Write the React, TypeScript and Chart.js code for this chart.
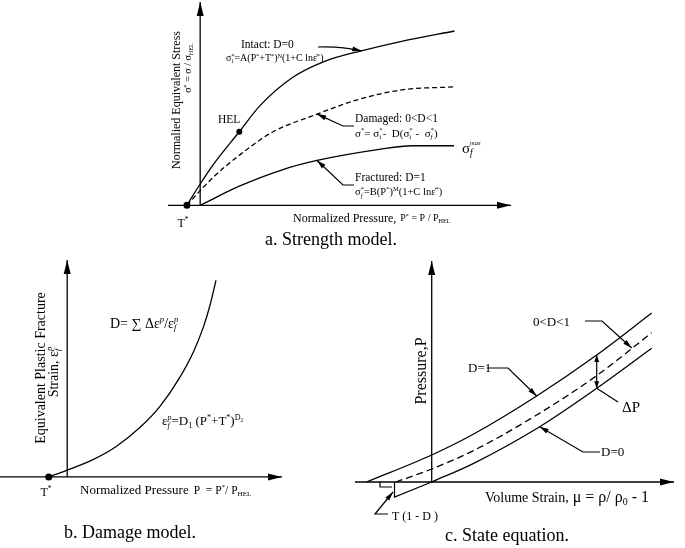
import React, { useEffect, useRef } from "react";
import { Chart, registerables } from "chart.js";
Chart.register(...registerables);

const FONT = '"Liberation Serif", "Times New Roman", serif';

// ---------- Panel a: strength model (P* = P/P_HEL, sigma* = sigma/sigma_HEL)
const intactP = [-0.34, 0, 0.33, 1.0, 1.53, 2.37, 3.2, 4.12, 5.15, 6.5];
const intactS = [0, 0.29, 0.55, 1.0, 1.355, 1.74, 1.96, 2.1, 2.23, 2.37];
const damagedP = [-0.34, 0, 0.33, 1.0, 1.83, 2.99, 3.99, 5.16, 6.49];
const damagedS = [0, 0.2, 0.38, 0.68, 0.99, 1.24, 1.43, 1.57, 1.61];
const fracturedP = [0, 1.0, 2.08, 2.99, 4.58, 5.41, 6.49];
const fracturedS = [0, 0.26, 0.48, 0.61, 0.76, 0.81, 0.81];
const tStarA = -0.34;
const helP = 1.0;
const helS = 1.0;

// ---------- Panel b: damage model
const damageP = [-0.38, 0, 0.5, 1.0, 1.5, 1.9, 2.3, 2.6, 2.8, 2.94, 3.06];
const damageEps = [0, 0.07, 0.17, 0.31, 0.51, 0.72, 1.01, 1.29, 1.54, 1.77, 2.02];
const tStarB = -0.38;

// ---------- Panel c: state equation
const d1Mu = [-0.325, 0, 0.21, 0.525, 0.825, 1.1];
const d1P = [0, 0.27, 0.48, 0.86, 1.27, 1.69];
const midMu = [-0.18, 0, 0.21, 0.525, 0.825, 1.1];
const midP = [0, 0.13, 0.315, 0.67, 1.064, 1.493];
const d0Mu = [0, 0.21, 0.54, 0.825, 1.1];
const d0P = [0, 0.187, 0.553, 0.937, 1.337];

const pts = (xs: number[], ys: number[]) => xs.map((x, i) => ({ x, y: ys[i] }));

interface Lay { l: number; t: number; w: number; h: number; ox: number; oy: number; ux: number; uy: number }

const layA: Lay = { l: 160, t: 0, w: 360, h: 250, ox: 197, oy: 208, ux: 40, uy: 76 };
const layB: Lay = { l: 0, t: 255, w: 290, h: 293, ox: 65, oy: 479, ux: 50, uy: 100 };
const layC: Lay = { l: 340, t: 255, w: 345, h: 293, ox: 431.7, oy: 482, ux: 200, uy: 100 };

type Tok = { t: string; k: string; it: boolean };
// ^{..} sup, _{..} sub, ~{..} tiny sup, `{..} sub-of-sup ; [..] instead of {..} = italic
function parse(s: string): Tok[] {
  const out: Tok[] = [];
  let i = 0, buf = "", it = false;
  const flush = () => { if (buf) { out.push({ t: buf, k: "n", it }); buf = ""; } };
  const kinds: Record<string, string> = { "^": "sup", "_": "sub", "`": "ss", "~": "tsup" };
  while (i < s.length) {
    const c = s[i];
    if (kinds[c] && (s[i + 1] === "{" || s[i + 1] === "[")) {
      flush();
      const close = s[i + 1] === "{" ? "}" : "]";
      const j = s.indexOf(close, i + 2);
      out.push({ t: s.slice(i + 2, j), k: kinds[c], it: s[i + 1] === "[" });
      i = j + 1;
    } else if (c === "|") { flush(); it = !it; i++; }
    else { buf += c; i++; }
  }
  flush();
  return out;
}

type Pt = [number, number];

function makeG(chart: any, L: Lay) {
  const ctx: CanvasRenderingContext2D = chart.ctx;
  const xs = chart.scales.x, ys = chart.scales.y;
  const P = (X: number, Y: number): Pt => [X - L.l, Y - L.t];
  const D = (x: number, y: number): Pt => [xs.getPixelForValue(x), ys.getPixelForValue(y)];
  const poly = (p: Pt[], dash: number[] = [], lw = 1.2) => {
    ctx.save(); ctx.setLineDash(dash); ctx.lineWidth = lw; ctx.strokeStyle = "#000";
    ctx.beginPath(); p.forEach((q, i) => (i ? ctx.lineTo(q[0], q[1]) : ctx.moveTo(q[0], q[1]))); ctx.stroke(); ctx.restore();
  };
  const head = (tip: Pt, from: Pt, len = 8, hw = 2.5) => {
    const dx = tip[0] - from[0], dy = tip[1] - from[1];
    const d = Math.hypot(dx, dy) || 1; const ux = dx / d, uy = dy / d;
    const bx = tip[0] - ux * len, by = tip[1] - uy * len;
    ctx.save(); ctx.fillStyle = "#000"; ctx.beginPath();
    ctx.moveTo(tip[0], tip[1]); ctx.lineTo(bx - uy * hw, by + ux * hw); ctx.lineTo(bx + uy * hw, by - ux * hw);
    ctx.closePath(); ctx.fill(); ctx.restore();
  };
  const lay = (s: string, size: number) => {
    const items: { t: string; font: string; dx: number; dy: number }[] = [];
    let x = 0, lastK = "", lastS = 0, lastW = 0;
    for (const tk of parse(s)) {
      const fs = tk.k === "ss" || tk.k === "tsup" ? size * 0.42 : tk.k === "n" ? size : size * 0.62;
      const font = `${tk.it ? "italic " : ""}${fs}px ${FONT}`;
      ctx.font = font;
      const w = ctx.measureText(tk.t).width;
      const dy = tk.k === "sup" ? -size * 0.38 : tk.k === "tsup" ? -size * 0.5 : tk.k === "sub" ? size * 0.2 : tk.k === "ss" ? -size * 0.22 : 0;
      const isSup = tk.k === "sup" || tk.k === "tsup";
      const lastSup = lastK === "sup" || lastK === "tsup";
      let sx = x;
      if ((isSup && lastK === "sub") || (tk.k === "sub" && lastSup)) {
        sx = lastS; x = Math.max(lastS + lastW, sx + w); lastK = "stk";
      } else { x = sx + w; lastK = tk.k; }
      lastS = sx; lastW = w;
      items.push({ t: tk.t, font, dx: sx, dy });
    }
    return { items, width: x };
  };
  const text = (s: string, at: Pt, size: number, align = "left") => {
    const r = lay(s, size);
    const x0 = align === "center" ? at[0] - r.width / 2 : align === "right" ? at[0] - r.width : at[0];
    const base = at[1] + size * 0.33;
    ctx.save(); ctx.fillStyle = "#000"; ctx.textBaseline = "alphabetic"; ctx.textAlign = "left";
    for (const it of r.items) { ctx.font = it.font; ctx.fillText(it.t, x0 + it.dx, base + it.dy); }
    ctx.restore();
    return r.width;
  };
  const vtext = (s: string, at: Pt, size: number) => {
    ctx.save(); ctx.translate(at[0], at[1]); ctx.rotate(-Math.PI / 2);
    text(s, [0, 0], size, "center"); ctx.restore();
  };
  return { ctx, P, D, poly, head, text, vtext };
}

const lineDs = (data: { x: number; y: number }[], dash: number[] = []) => ({
  data, showLine: true, borderColor: "#000", borderWidth: 1.3, borderDash: dash,
  pointRadius: 0, cubicInterpolationMode: "monotone", fill: false,
});
const dotDs = (data: { x: number; y: number }[], r: number) => ({
  data, showLine: false, pointRadius: r, pointBackgroundColor: "#000", pointBorderColor: "#000", pointBorderWidth: 0,
});

function Panel({ L, datasets, draw }: { L: Lay; datasets: any[]; draw: (g: ReturnType<typeof makeG>) => void }) {
  const ref = useRef<HTMLCanvasElement | null>(null);
  useEffect(() => {
    const chart = new Chart(ref.current as HTMLCanvasElement, {
      type: "scatter",
      data: { datasets } as any,
      options: {
        animation: false, responsive: false, devicePixelRatio: 1, events: [],
        layout: { padding: 0 },
        plugins: { legend: { display: false }, tooltip: { enabled: false } },
        scales: {
          x: { type: "linear", display: false, min: (L.l - L.ox) / L.ux, max: (L.l + L.w - L.ox) / L.ux },
          y: { type: "linear", display: false, min: (L.oy - L.t - L.h) / L.uy, max: (L.oy - L.t) / L.uy },
        },
      } as any,
      plugins: [{ id: "anno", afterDatasetsDraw(c: any) { draw(makeG(c, L)); } }],
    });
    return () => chart.destroy();
  }, []);
  return <canvas ref={ref} width={L.w} height={L.h}
    style={{ position: "absolute", left: L.l, top: L.t, width: L.w, height: L.h }} />;
}

function drawA(g: ReturnType<typeof makeG>) {
  const { P, D, poly, head, text, vtext, ctx } = g;
  const [ax, ay] = D(0, 0);
  poly([[P(168, 0)[0], ay], [P(511, 0)[0], ay]], [], 1.3);
  head([P(511, 0)[0], ay], [ax, ay], 14, 3.5);
  poly([[ax, ay], [ax, P(0, 2)[1]]], [], 1.3);
  head([ax, P(0, 2)[1]], [ax, ay], 14, 3.5);

  // Intact leader
  const tipI = D(intactP[7], intactS[7]);
  const s0 = P(318, 47), c0 = P(340, 46);
  ctx.save(); ctx.lineWidth = 1.2; ctx.beginPath(); ctx.moveTo(s0[0], s0[1]);
  ctx.quadraticCurveTo(c0[0], c0[1], tipI[0], tipI[1]); ctx.stroke(); ctx.restore();
  head(tipI, c0, 9, 2.5);
  const tipD = D(damagedP[5], damagedS[5]);
  poly([P(354, 126), P(343, 126), tipD]); head(tipD, P(343, 126), 9, 2.5);
  const tipF = D(fracturedP[3], fracturedS[3]);
  poly([P(354, 185), P(343, 185), tipF]); head(tipF, P(343, 185), 9, 2.5);

  text("Intact: D=0", P(241, 44), 11.5);
  text("σ_{i}^{*}=A(P^{*}+T^{*})^{N}(1+C lnε̇^{*})", P(226, 58), 10);
  text("HEL", P(218, 119), 11.5);
  text("Damaged: 0<D<1", P(355, 118), 11.5);
  text("σ^{*}= σ_{i}^{*}-  D(σ_{i}^{*} -  σ_[f]^{*})", P(355, 133), 11);
  text("Fractured: D=1", P(355, 177), 11.5);
  text("σ_[f]^{*}=B(P^{*})^{M}(1+C lnε̇^{*})", P(355, 192), 10.5);
  text("σ_[f]~[max]", P(462, 148), 15);
  text("T^{*}", P(183, 223), 12, "center");
  const w = text("Normalized Pressure,", P(293, 218), 12);
  text("P^{*} = P / P_{HEL}", P(293 + w + 4, 218), 10);
  vtext("Normalied Equivalent Stress", P(176, 100), 12);
  vtext("σ^{*} = σ / σ_{HEL}", P(188, 68), 10);
  text("a. Strength model.", P(331, 239), 18, "center");
}

function drawB(g: ReturnType<typeof makeG>) {
  const { P, D, poly, head, text, vtext } = g;
  const [ax, ay] = D(0, 0);
  poly([[P(0, 0)[0], ay], [P(282, 0)[0], ay]], [], 1.3);
  head([P(282, 0)[0], ay], [ax, ay], 14, 3.5);
  poly([[ax, ay], [ax, P(0, 260)[1]]], [], 1.3);
  head([ax, P(0, 260)[1]], [ax, ay], 14, 3.5);
  text("T^{*}", P(46, 492), 12, "center");
  const w = text("Normalized Pressure", P(80, 490), 13);
  text("P  = P^{*}/ P_{HEL}", P(80 + w + 5, 490), 11.5);
  text("D= ∑ Δε^[p]/ε_[f]^[p]", P(110, 323), 14);
  text("ε_[f]^[p]=D_{1} (P^{*}+T^{*})^{D}`{2}", P(162, 421), 13);
  vtext("Equivalent Plastic Fracture", P(40, 368), 14);
  vtext("Strain, ε_[f]^[p]", P(53, 372), 14);
  text("b. Damage model.", P(130, 532), 18, "center");
}

function drawC(g: ReturnType<typeof makeG>) {
  const { P, D, poly, head, text, vtext } = g;
  const [ax, ay] = D(0, 0);
  poly([[P(355, 0)[0], ay], [P(674, 0)[0], ay]], [], 1.3);
  head([P(674, 0)[0], ay], [ax, ay], 14, 3.5);
  poly([[ax, ay], [ax, P(0, 261)[1]]], [], 1.3);
  head([ax, P(0, 261)[1]], [ax, ay], 14, 3.5);

  // tension cut-off marks
  poly([[P(380, 0)[0], ay], P(380, 487), P(392, 487)]);
  poly([[P(394.5, 0)[0], ay], P(394.5, 497), [ax, ay]]);

  const tMid = D(1.0, 1.34);
  poly([P(585, 321), P(602, 321), tMid]); head(tMid, P(602, 321), 9, 2.5);
  const t1 = D(d1Mu[3], d1P[3]);
  poly([P(487, 368), P(508, 368), t1]); head(t1, P(508, 368), 9, 2.5);
  const a = D(d1Mu[4], d1P[4]), b = D(d0Mu[3], d0P[3]);
  poly([a, b]); head(a, b, 7, 2.5); head(b, a, 7, 2.5);
  poly([b, P(618, 402)]);
  const t0 = D(d0Mu[2], d0P[2]);
  poly([P(600, 452), P(583, 452), t0]); head(t0, P(583, 452), 9, 2.5);
  poly([P(388, 514), P(375, 514), P(393, 492)]); head(P(393, 492), P(375, 514), 9, 2.5);

  text("0<D<1", P(533, 322), 13);
  text("D=1", P(468, 368), 13);
  text("ΔP", P(622, 407), 15);
  text("D=0", P(601, 452), 13);
  text("T (1 - D )", P(392, 516), 12);
  vtext("Pressure,P", P(421, 371), 16);
  const w = text("Volume Strain,", P(485, 497), 14);
  text("μ = ρ/ ρ_{0} - 1", P(485 + w + 4, 497), 16);
  text("c. State equation.", P(507, 535), 18, "center");
}

export default function App() {
  const dsA = [
    lineDs(pts(intactP, intactS)),
    lineDs(pts(damagedP, damagedS), [5, 3]),
    lineDs(pts(fracturedP, fracturedS)),
    dotDs([{ x: tStarA, y: 0 }], 3.5),
    dotDs([{ x: helP, y: helS }], 3),
  ];
  const dsB = [
    lineDs(pts(damageP, damageEps)),
    dotDs([{ x: tStarB, y: 0 }], 3.5),
  ];
  const dsC = [
    lineDs(pts(d1Mu, d1P)),
    lineDs(pts(midMu, midP), [7, 4]),
    lineDs(pts(d0Mu, d0P)),
  ];
  return (
    <div style={{ position: "absolute", left: 0, top: 0, width: 685, height: 548, background: "#fff", overflow: "hidden" }}>
      <Panel L={layA} datasets={dsA} draw={drawA} />
      <Panel L={layB} datasets={dsB} draw={drawB} />
      <Panel L={layC} datasets={dsC} draw={drawC} />
    </div>
  );
}
